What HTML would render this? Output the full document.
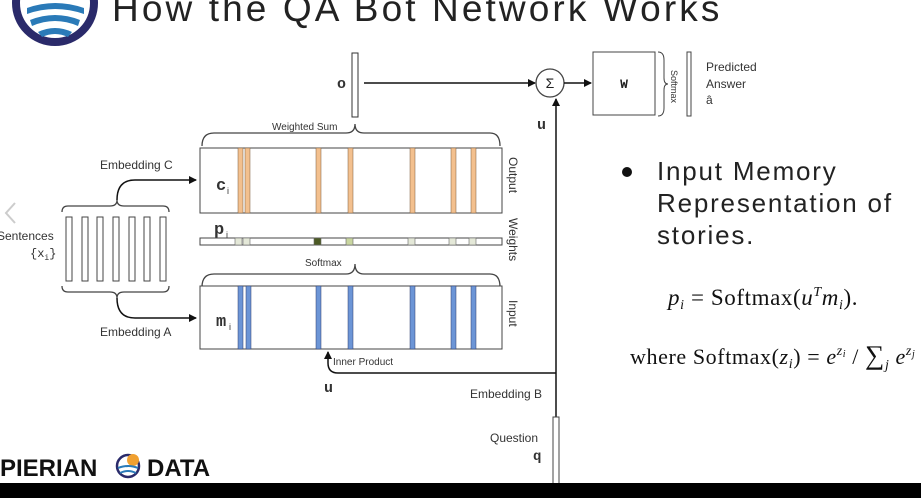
<!DOCTYPE html>
<html><head><meta charset="utf-8"><style>
body{margin:0;background:#fff;width:921px;height:498px;overflow:hidden;position:relative}
svg{position:absolute;left:0;top:0}
</style></head><body>
<svg width="921" height="498" viewBox="0 0 921 498" font-family="'Liberation Sans',sans-serif">
<defs><marker id="a" markerWidth="8" markerHeight="8" refX="7" refY="4" orient="auto" markerUnits="userSpaceOnUse"><path d="M0,0 L8,4 L0,8z" fill="#111"/></marker></defs>
<!-- logo -->
<circle cx="55" cy="3" r="39" fill="#fff" stroke="#2a2a6a" stroke-width="8"/>
<path d="M27,8 Q55,-2 84,8 L84,14 Q55,4 27,14z" fill="#2a7ab8"/>
<path d="M30,20 Q55,10 80,20 L78,26 Q55,16 32,26z" fill="#2a7ab8"/>
<path d="M38,32 Q55,24 72,32 L68,37 Q55,31 42,37z" fill="#2a7ab8"/>
<text x="112" y="21" font-size="37" letter-spacing="3.1" fill="#222">How the QA Bot Network Works</text>
<!-- chevron -->
<path d="M15,203 L6,213 L15,223" fill="none" stroke="#ccc" stroke-width="2"/>
<!-- o vector -->
<rect x="352" y="53" width="6" height="64" fill="#fff" stroke="#333"/>
<text x="337" y="88" font-size="15" font-weight="bold" font-family="'Liberation Mono',monospace" fill="#333">o</text>
<line x1="364" y1="83" x2="535" y2="83" stroke="#111" stroke-width="1.5" marker-end="url(#a)"/>
<circle cx="550" cy="83" r="14" fill="#fff" stroke="#444" stroke-width="1.3"/>
<text x="550" y="88" font-size="14" text-anchor="middle" fill="#222">Σ</text>
<line x1="564" y1="83" x2="591" y2="83" stroke="#111" stroke-width="1.5" marker-end="url(#a)"/>
<rect x="593" y="52" width="62" height="63" fill="#fff" stroke="#444"/>
<text x="624" y="88" font-size="13" font-weight="bold" font-family="'Liberation Mono',monospace" text-anchor="middle" fill="#222">W</text>
<path d="M658,52 Q664,52 664,60 L664,78 Q664,84 668,84 Q664,84 664,90 L664,108 Q664,116 658,116" fill="none" stroke="#444"/>
<text transform="translate(671,70) rotate(90)" font-size="9" fill="#333">Softmax</text>
<rect x="687" y="52" width="4" height="64" fill="#fff" stroke="#444"/>
<text font-size="12" fill="#333"><tspan x="706" y="71">Predicted</tspan><tspan x="706" y="88">Answer</tspan><tspan x="706" y="104">â</tspan></text>
<!-- u line -->
<line x1="556" y1="470" x2="556" y2="99" stroke="#111" stroke-width="1.5" marker-end="url(#a)"/>
<text x="537" y="129" font-size="15" font-weight="bold" font-family="'Liberation Mono',monospace" fill="#333">u</text>
<!-- weighted sum brace -->
<path d="M202,146 Q202,133 214,133 L346,133 Q355,133 355,124 Q355,133 364,133 L490,133 Q500,133 500,146" fill="none" stroke="#444" stroke-width="1.3"/>
<text x="272" y="130" font-size="10" fill="#333">Weighted Sum</text>
<!-- output box -->
<rect x="200" y="148" width="302" height="65" fill="#fff" stroke="#444"/>
<g fill="#f3c08e" stroke="#7a5a3a" stroke-width="0.5">
<rect x="238" y="148" width="5" height="65"/><rect x="245" y="148" width="5" height="65"/><rect x="316" y="148" width="5" height="65"/><rect x="348" y="148" width="5" height="65"/><rect x="410" y="148" width="5" height="65"/><rect x="451" y="148" width="5" height="65"/><rect x="471" y="148" width="5" height="65"/>
</g>
<text x="216" y="190" font-size="17" font-weight="bold" font-family="'Liberation Mono',monospace" fill="#333">c</text><text x="227" y="194" font-size="9" fill="#333">i</text>
<text transform="translate(509,157) rotate(90)" font-size="12" fill="#333">Output</text>
<!-- weights -->
<text x="214" y="234" font-size="17" font-weight="bold" font-family="'Liberation Mono',monospace" fill="#333">p</text><text x="226" y="238" font-size="9" fill="#333">i</text>
<rect x="200" y="238" width="302" height="7" fill="#fff" stroke="#444"/>
<g stroke="#666" stroke-width="0.6">
<rect x="235" y="238" width="7" height="7" fill="#e4e8d8"/><rect x="243" y="238" width="7" height="7" fill="#e4e8d8"/><rect x="314" y="238" width="7" height="7" fill="#4c5a24"/><rect x="346" y="238" width="7" height="7" fill="#c9d6a0"/><rect x="408" y="238" width="7" height="7" fill="#e4e8d8"/><rect x="449" y="238" width="7" height="7" fill="#e4e8d8"/><rect x="469" y="238" width="7" height="7" fill="#e4e8d8"/>
</g>
<text transform="translate(509,218) rotate(90)" font-size="12" fill="#333">Weights</text>
<!-- softmax brace -->
<path d="M202,287 Q202,274 214,274 L346,274 Q355,274 355,264 Q355,274 364,274 L490,274 Q500,274 500,287" fill="none" stroke="#444" stroke-width="1.3"/>
<text x="305" y="266" font-size="10" fill="#333">Softmax</text>
<!-- input box -->
<rect x="200" y="286" width="302" height="63" fill="#fff" stroke="#444"/>
<g fill="#6c95d6" stroke="#2a3a6a" stroke-width="0.5">
<rect x="238" y="286" width="5" height="63"/><rect x="246" y="286" width="5" height="63"/><rect x="316" y="286" width="5" height="63"/><rect x="348" y="286" width="5" height="63"/><rect x="410" y="286" width="5" height="63"/><rect x="451" y="286" width="5" height="63"/><rect x="471" y="286" width="5" height="63"/>
</g>
<text x="216" y="326" font-size="17" font-weight="bold" font-family="'Liberation Mono',monospace" fill="#333">m</text><text x="229" y="330" font-size="9" fill="#333">i</text>
<text transform="translate(509,300) rotate(90)" font-size="12" fill="#333">Input</text>
<!-- inner product -->
<path d="M556,373 L338,373 Q328,373 328,363 L328,352" fill="none" stroke="#111" stroke-width="1.5" marker-end="url(#a)"/>
<text x="333" y="365" font-size="10" fill="#333">Inner Product</text>
<text x="324" y="392" font-size="15" font-weight="bold" font-family="'Liberation Mono',monospace" fill="#333">u</text>
<text x="470" y="398" font-size="12" fill="#333">Embedding B</text>
<rect x="553" y="417" width="6" height="70" fill="#fff" stroke="#444"/>
<text x="490" y="442" font-size="12" fill="#333">Question</text>
<text x="533" y="460" font-size="14" font-weight="bold" font-family="'Liberation Mono',monospace" fill="#333">q</text>
<!-- sentences -->
<g fill="#fff" stroke="#444">
<rect x="66" y="217" width="6" height="64"/><rect x="82" y="217" width="6" height="64"/><rect x="97" y="217" width="6" height="64"/><rect x="113" y="217" width="6" height="64"/><rect x="129" y="217" width="6" height="64"/><rect x="144" y="217" width="6" height="64"/><rect x="160" y="217" width="6" height="64"/>
</g>
<path d="M62,212 Q62,206 68,206 L110,206 Q117,206 117,200 Q117,206 124,206 L163,206 Q169,206 169,212" fill="none" stroke="#444" stroke-width="1.3"/>
<path d="M117,200 Q117,180 135,180 L196,180" fill="none" stroke="#111" stroke-width="1.5" marker-end="url(#a)"/>
<path d="M62,286 Q62,292 68,292 L110,292 Q117,292 117,298 Q117,292 124,292 L163,292 Q169,292 169,286" fill="none" stroke="#444" stroke-width="1.3"/>
<path d="M117,298 Q117,318 135,318 L196,318" fill="none" stroke="#111" stroke-width="1.5" marker-end="url(#a)"/>
<text x="100" y="169" font-size="12" fill="#333">Embedding C</text>
<text x="100" y="336" font-size="12" fill="#333">Embedding A</text>
<text x="-3" y="240" font-size="12" fill="#333">Sentences</text>
<text x="30" y="257" font-size="12" font-family="'Liberation Mono',monospace" fill="#333">{x<tspan font-size="8" dy="3">i</tspan><tspan dy="-3">}</tspan></text>
<!-- bullet -->
<circle cx="627" cy="172" r="5" fill="#111"/>
<text font-size="26" letter-spacing="1.8" fill="#222"><tspan x="657" y="180">Input Memory</tspan><tspan x="657" y="212">Representation of</tspan><tspan x="657" y="244">stories.</tspan></text>
<text x="668" y="305" font-size="23" font-family="'Liberation Serif',serif" fill="#111" letter-spacing="0.6"><tspan font-style="italic">p</tspan><tspan font-size="14" font-style="italic" dy="4">i</tspan><tspan dy="-4"> = Softmax(</tspan><tspan font-style="italic">u</tspan><tspan font-size="14" font-style="italic" dy="-9">T</tspan><tspan font-style="italic" dy="9">m</tspan><tspan font-size="14" font-style="italic" dy="4">i</tspan><tspan dy="-4">).</tspan></text>
<text x="630" y="364" font-size="22" font-family="'Liberation Serif',serif" fill="#111" letter-spacing="0.6">where Softmax(<tspan font-style="italic">z</tspan><tspan font-size="14" font-style="italic" dy="4">i</tspan><tspan dy="-4">) = </tspan><tspan font-style="italic">e</tspan><tspan font-size="14" font-style="italic" dy="-9">z</tspan><tspan font-size="10" font-style="italic" dy="2">i</tspan><tspan dy="7"> / </tspan><tspan font-size="27">∑</tspan><tspan font-size="14" font-style="italic" dy="5">j</tspan><tspan font-style="italic" dy="-5"> e</tspan><tspan font-size="14" font-style="italic" dy="-9">z</tspan><tspan font-size="10" font-style="italic" dy="2">j</tspan></text>
<!-- footer -->
<text x="0" y="476" font-size="24" font-weight="bold" fill="#111">PIERIAN</text>
<circle cx="128" cy="466" r="11" fill="#fff" stroke="#2a2a6a" stroke-width="2.5"/>
<circle cx="133" cy="460" r="6" fill="#f0a030"/>
<path d="M118,468 Q128,464 138,468 M120,473 Q128,469 136,473" stroke="#2a7ab8" stroke-width="2" fill="none"/>
<text x="147" y="476" font-size="24" font-weight="bold" fill="#111">DATA</text>
<rect x="0" y="483" width="921" height="15" fill="#000"/>
</svg>
</body></html>
